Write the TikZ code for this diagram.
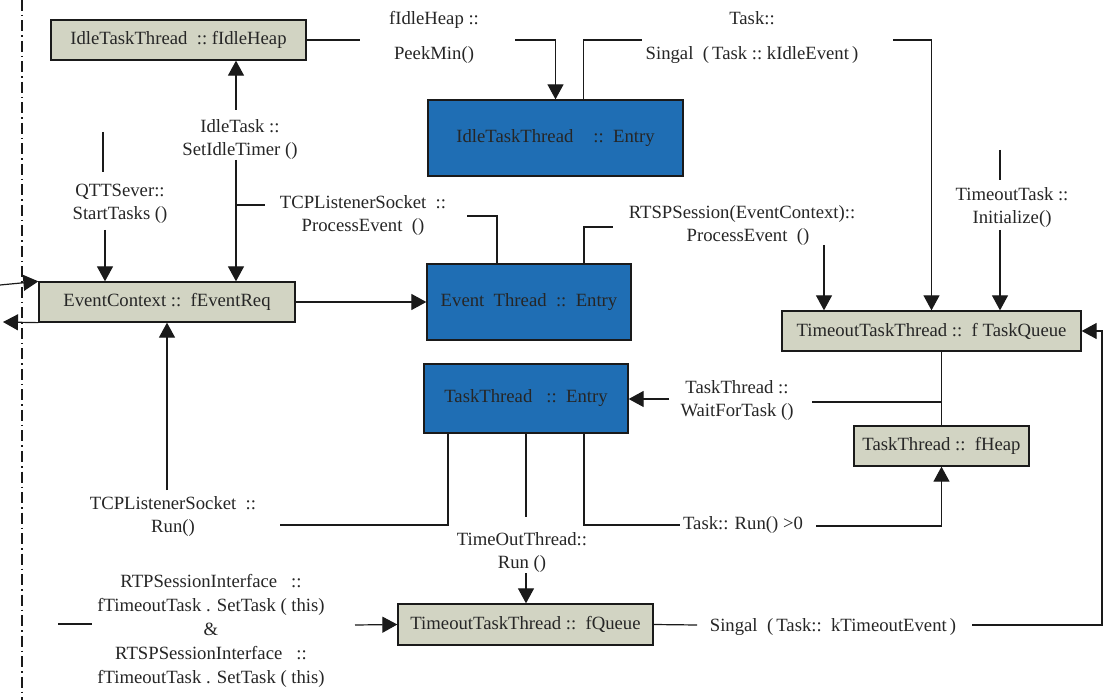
\documentclass[tikz,border=0pt]{standalone}
\usepackage{fontspec}
\setmainfont{Liberation Serif}
\usetikzlibrary{arrows.meta}
\definecolor{boxgray}{HTML}{D2D4C3}
\definecolor{boxblue}{HTML}{1F6EB4}
\definecolor{txt}{HTML}{262626}
\definecolor{linec}{HTML}{1A1A1A}
\newcommand{\lf}{\fontsize{18.7}{23}\selectfont}
\begin{document}
\begin{tikzpicture}[x=1pt,y=-1pt,
  gbox/.style={draw=linec,line width=1.3pt,fill=boxgray,minimum height=40pt,inner sep=0pt,font=\lf,text=txt},
  bbox/.style={draw=linec,line width=1.3pt,fill=boxblue,inner sep=0pt,font=\lf,text=txt},
  lbl/.style={font=\lf,text=txt,align=center,inner sep=0pt},
  con/.style={draw=linec,line width=1.2pt},
  arr/.style={con,-{Triangle[length=15pt,width=16pt]}}]
\fill[white] (0,0) rectangle (1106,700);
\useasboundingbox (0,0) rectangle (1106,700);
% dash-dot separator
\draw[draw=linec,line width=1.3pt,dash pattern=on 11pt off 4pt on 1.5pt off 4pt] (22,0) -- (22,700);

% boxes
\node[gbox,minimum width=255pt] (ih) at (178.5,40) {IdleTaskThread\ \ ::\ fIdleHeap};
\node[bbox,minimum width=255pt,minimum height=76pt] (ie) at (555.5,138) {IdleTaskThread\hspace{20pt}::\ \ Entry};
\node[gbox,minimum width=256pt] (ec) at (167,302) {EventContext\ ::\ \ fEventReq};
\node[bbox,minimum width=204pt,minimum height=76pt] (et) at (529,302) {Event\ \ Thread\ \ ::\ \ Entry};
\node[bbox,minimum width=204pt,minimum height=69pt] (tt) at (526,398.5) {TaskThread\ \ \ ::\ \ Entry};
\node[gbox,minimum width=299pt] (tq) at (931.5,331) {TimeoutTaskThread ::\ \ f TaskQueue};
\node[gbox,minimum width=175pt] (fh) at (941.5,446) {TaskThread ::\ \ fHeap};
\node[gbox,minimum width=255pt,minimum height=41pt] (fq) at (525.5,624.5) {TimeoutTaskThread ::\ \ fQueue};

% labels
\node[lbl] (l1) at (434,37.5) {fIdleHeap ::\\[12pt]PeekMin()};
\node[lbl] (l2) at (752,37.5) {Task::\\[12pt]Singal\ \ (\,Task ::\ kIdleEvent\,)};
\node[lbl] (l3) at (240,139.5) {IdleTask ::\\SetIdleTimer ()};
\node[lbl] (l4) at (120,203.5) {QTTSever::\\StartTasks ()};
\node[lbl] (l5) at (363,216) {TCPListenerSocket\ \ ::\\ProcessEvent\ \ ()};
\node[lbl] (l6) at (742,226) {RTSPSession(EventContext)::\\\hspace*{12pt}ProcessEvent\ \ ()};
\node[lbl] (l7) at (1012,207.5) {TimeoutTask ::\\Initialize()};
\node[lbl] (l8) at (737,400.5) {TaskThread ::\\WaitForTask ()};
\node[lbl] (l9) at (173,516.5) {TCPListenerSocket\ \ ::\\Run()};
\node[lbl] (l10) at (522,552.5) {TimeOutThread::\\Run ()};
\node[lbl] (l11) at (743,525) {Task:: Run() >0};
\node[lbl] (l12) at (833,627) {Singal\ \ (\,Task::\ \ kTimeoutEvent\,)};
\node[lbl,font=\fontsize{18.7}{24}\selectfont] (l13) at (211,631) {RTPSessionInterface\ \ \ ::\\fTimeoutTask . SetTask ( this)\\\&\\RTSPSessionInterface\ \ \ ::\\fTimeoutTask . SetTask ( this)};

% free-end coordinates
\coordinate (c1) at (360,40);
\coordinate (c2) at (515,40);
\coordinate (c3) at (642,40);
\coordinate (c4) at (893,40);
\coordinate (c5) at (236,110);
\coordinate (c6) at (236,160);
\coordinate (c7) at (236,205);
\coordinate (c8) at (265,205);
\coordinate (c9) at (467,216);
\coordinate (c10) at (103,132);
\coordinate (c11) at (103,172);
\coordinate (c12) at (105,230);
\coordinate (c13) at (613,227);
\coordinate (c14) at (824,245);
\coordinate (c15) at (1000,150);
\coordinate (c16) at (1000,180);
\coordinate (c17) at (1000,230);
\coordinate (c18) at (0,285);
\coordinate (c19) at (3,322);
\coordinate (c20) at (167,490);
\coordinate (c21) at (280,525);
\coordinate (c22) at (526,517);
\coordinate (c23) at (526,573);
\coordinate (c24) at (680,525);
\coordinate (c25) at (816,526);
\coordinate (c26) at (669,399);
\coordinate (c27) at (812,402);
\coordinate (c28) at (697,625);
\coordinate (c29) at (972,625);
\coordinate (c30) at (1102,625);
\coordinate (c31) at (58,624);
\coordinate (c32) at (92,624);
\coordinate (c33) at (355,625);

% connectors
\draw[con] (ih.east) -- (c1);
\draw[arr] (c2) -| (ie.north);
\draw[con] ([xshift=28pt]ie.north) |- (c3);
\draw[arr] (c4) -| (tq.north);
\draw[arr] (c5) -- (c5 |- ih.south);
\draw[arr] (c6) -- (c6 |- ec.north);
\draw[con] (c7) -- (c8);
\draw[con] (c9) -| ([xshift=-32pt]et.north);
\draw[con] (c10) -- (c11);
\draw[arr] (c12) -- (c12 |- ec.north);
\draw[con] ([xshift=55pt]et.north) |- (c13);
\draw[arr] (c14) -- (c14 |- tq.north);
\draw[con] (c15) -- (c16);
\draw[arr] (c17) -- (c17 |- tq.north);
\draw[arr] (ec.east) -- (et.west);
\draw[arr] (c18) -- (ec.north west);
\draw[arr] (ec.south west) -- (c19);
\draw[arr] (c20) -- (c20 |- ec.south);
\draw[con] (c21) -| ([xshift=-78pt]tt.south);
\draw[con] (tt.south) -- (c22);
\draw[arr] (c23) -- (c23 |- fq.north);
\draw[con] ([xshift=58pt]tt.south) |- (c24);
\draw[arr] (c25) -| (fh.south);
\draw[arr] (c26) -- (c26 -| tt.east);
\draw[con] (fh.north) -- (fh.north |- tq.south);
\draw[con] (c27) -- (c27 -| fh.north);
\draw[con] (fq.east) -- (c28);
\draw[arr] (c29) -- (c30) |- (tq.east);
\draw[con] (c31) -- (c32);
\draw[arr] (c33) -- (fq.west);
\end{tikzpicture}
\end{document}
